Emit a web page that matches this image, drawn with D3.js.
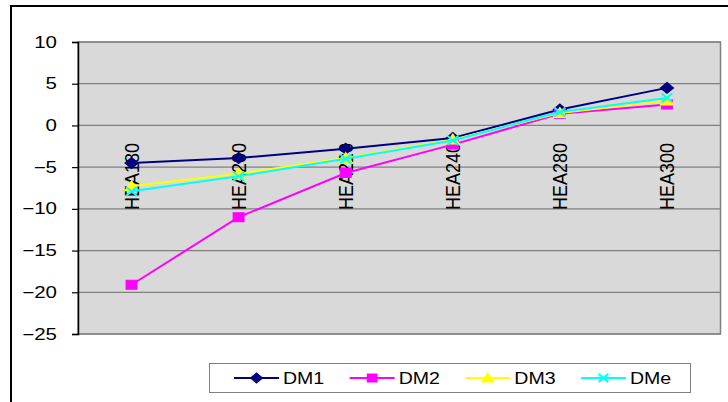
<!DOCTYPE html>
<html>
<head>
<meta charset="utf-8">
<script src="https://cdn.jsdelivr.net/npm/d3@7/dist/d3.min.js"></script>
<style>
  html, body { margin: 0; padding: 0; background: #fff; }
  svg { display: block; font-family: Arial, "Liberation Sans", sans-serif; }
</style>
</head>
<body>
<svg id="chart" width="728" height="402"></svg>
<script>
// Section categories and series values
const categories = ["HEA180", "HEA200", "HEA220", "HEA240", "HEA280", "HEA300"];
const seriesNames = ["DM1", "DM2", "DM3", "DMe"];
const dm1 = [-4.5, -3.9, -2.8, -1.5, 1.9, 4.5];
const dm2 = [-19.1, -11.0, -5.7, -2.3, 1.4, 2.5];
const dm3 = [-7.3, -5.8, -3.9, -1.7, 1.5, 3.0];
const dme = [-7.9, -6.1, -4.0, -1.8, 1.6, 3.3];
const yTicks = [10, 5, 0, -5, -10, -15, -20, -25];

const seriesColors = ["#000080", "#FF00FF", "#FFFF00", "#00FFFF"];
const seriesMarkers = ["diamond", "square", "triangle", "cross"];
const seriesValues = [dm1, dm2, dm3, dme];

// Text in this chart is drawn slightly widened
const textStretch = 1.28;

const svg = d3.select("#chart");

// Chart frame
svg.append("path")
  .attr("d", "M11,402 V6 H728")
  .attr("fill", "none")
  .attr("stroke", "#000")
  .attr("stroke-width", 2);

const plot = { left: 78, top: 42, right: 720.5, bottom: 334 };

const x = d3.scalePoint()
  .domain(categories)
  .range([plot.left, plot.right])
  .padding(0.5);

const y = d3.scaleLinear()
  .domain([-25, 10])
  .range([plot.bottom, plot.top]);

// Plot area background
svg.append("rect")
  .attr("x", plot.left)
  .attr("y", plot.top)
  .attr("width", plot.right - plot.left)
  .attr("height", plot.bottom - plot.top)
  .attr("fill", "#D9D9D9")
  .attr("stroke", "#808080")
  .attr("stroke-width", 1.5);

// Horizontal gridlines
svg.append("g")
  .selectAll("line")
  .data(yTicks)
  .join("line")
  .attr("x1", plot.left)
  .attr("x2", plot.right)
  .attr("y1", d => y(d))
  .attr("y2", d => y(d))
  .attr("stroke", "#808080")
  .attr("stroke-width", 1.2);

// Value axis
const yAxis = d3.axisLeft(y)
  .tickValues(yTicks)
  .tickSize(6)
  .tickPadding(15)
  .tickFormat(d3.format("d"));

const gy = svg.append("g")
  .attr("transform", `translate(${plot.left},0)`)
  .call(yAxis);
gy.select(".domain").attr("stroke", "#000").attr("stroke-width", 1.5);
gy.selectAll(".tick line").attr("stroke", "#000").attr("stroke-width", 1.2);
gy.selectAll(".tick text")
  .attr("x", 0)
  .attr("transform", `translate(-21,0) scale(${textStretch},1)`)
  .attr("font-size", 16)
  .attr("font-family", "Arial, 'Liberation Sans', sans-serif")
  .attr("fill", "#000");

// Category labels, rotated, below the zero line
svg.append("g")
  .selectAll("text")
  .data(categories)
  .join("text")
  .attr("transform", d => `translate(${x(d) + 7.5},210) scale(1.13,1) rotate(-90)`)
  .attr("text-anchor", "start")
  .attr("font-size", 18)
  .attr("fill", "#000")
  .text(d => d);

// Marker shapes
function markerPath(kind, s) {
  const h = s / 2;
  switch (kind) {
    case "diamond": return `M0,${-h - 1}L${h + 1},0L0,${h + 1}L${-h - 1},0Z`;
    case "square": return `M${-h},${-h}H${h}V${h}H${-h}Z`;
    case "triangle": return `M0,${-h - 1}L${h + 1},${h}L${-h - 1},${h}Z`;
    case "cross": return `M${-h},${-h}L${h},${h}M${h},${-h}L${-h},${h}`;
  }
}

function drawMarker(g, kind, color, cx, cy, s) {
  const p = g.append("path")
    .attr("transform", `translate(${cx},${cy}) scale(1.2,1)`)
    .attr("d", markerPath(kind, s));
  if (kind === "cross") {
    p.attr("fill", "none").attr("stroke", color).attr("stroke-width", 1.8);
  } else {
    p.attr("fill", color).attr("stroke", color).attr("stroke-width", 1);
  }
}

const line = d3.line()
  .x((d, i) => x(categories[i]))
  .y(d => y(d));

const series = svg.append("g");
seriesValues.forEach((vals, k) => {
  const g = series.append("g");
  g.append("path")
    .datum(vals)
    .attr("d", line)
    .attr("fill", "none")
    .attr("stroke", seriesColors[k])
    .attr("stroke-width", 2);
  vals.forEach((v, i) => drawMarker(g, seriesMarkers[k], seriesColors[k], x(categories[i]), y(v), 9));
});

// Legend
const legend = svg.append("g");
legend.append("rect")
  .attr("x", 209.5)
  .attr("y", 363.5)
  .attr("width", 481)
  .attr("height", 29)
  .attr("fill", "#fff")
  .attr("stroke", "#808080")
  .attr("stroke-width", 1);

const legendX = d3.scalePoint().domain(seriesNames).range([234, 581]);
seriesNames.forEach((name, k) => {
  const lx = legendX(name);
  const ly = 378;
  const g = legend.append("g");
  g.append("line")
    .attr("x1", lx).attr("x2", lx + 45)
    .attr("y1", ly).attr("y2", ly)
    .attr("stroke", seriesColors[k])
    .attr("stroke-width", 2);
  drawMarker(g, seriesMarkers[k], seriesColors[k], lx + 22.5, ly, 8);
  g.append("text")
    .attr("transform", `translate(${lx + 49},${ly + 6}) scale(1.15,1)`)
    .attr("font-size", 17)
    .attr("fill", "#000")
    .text(name);
});
</script>
</body>
</html>
